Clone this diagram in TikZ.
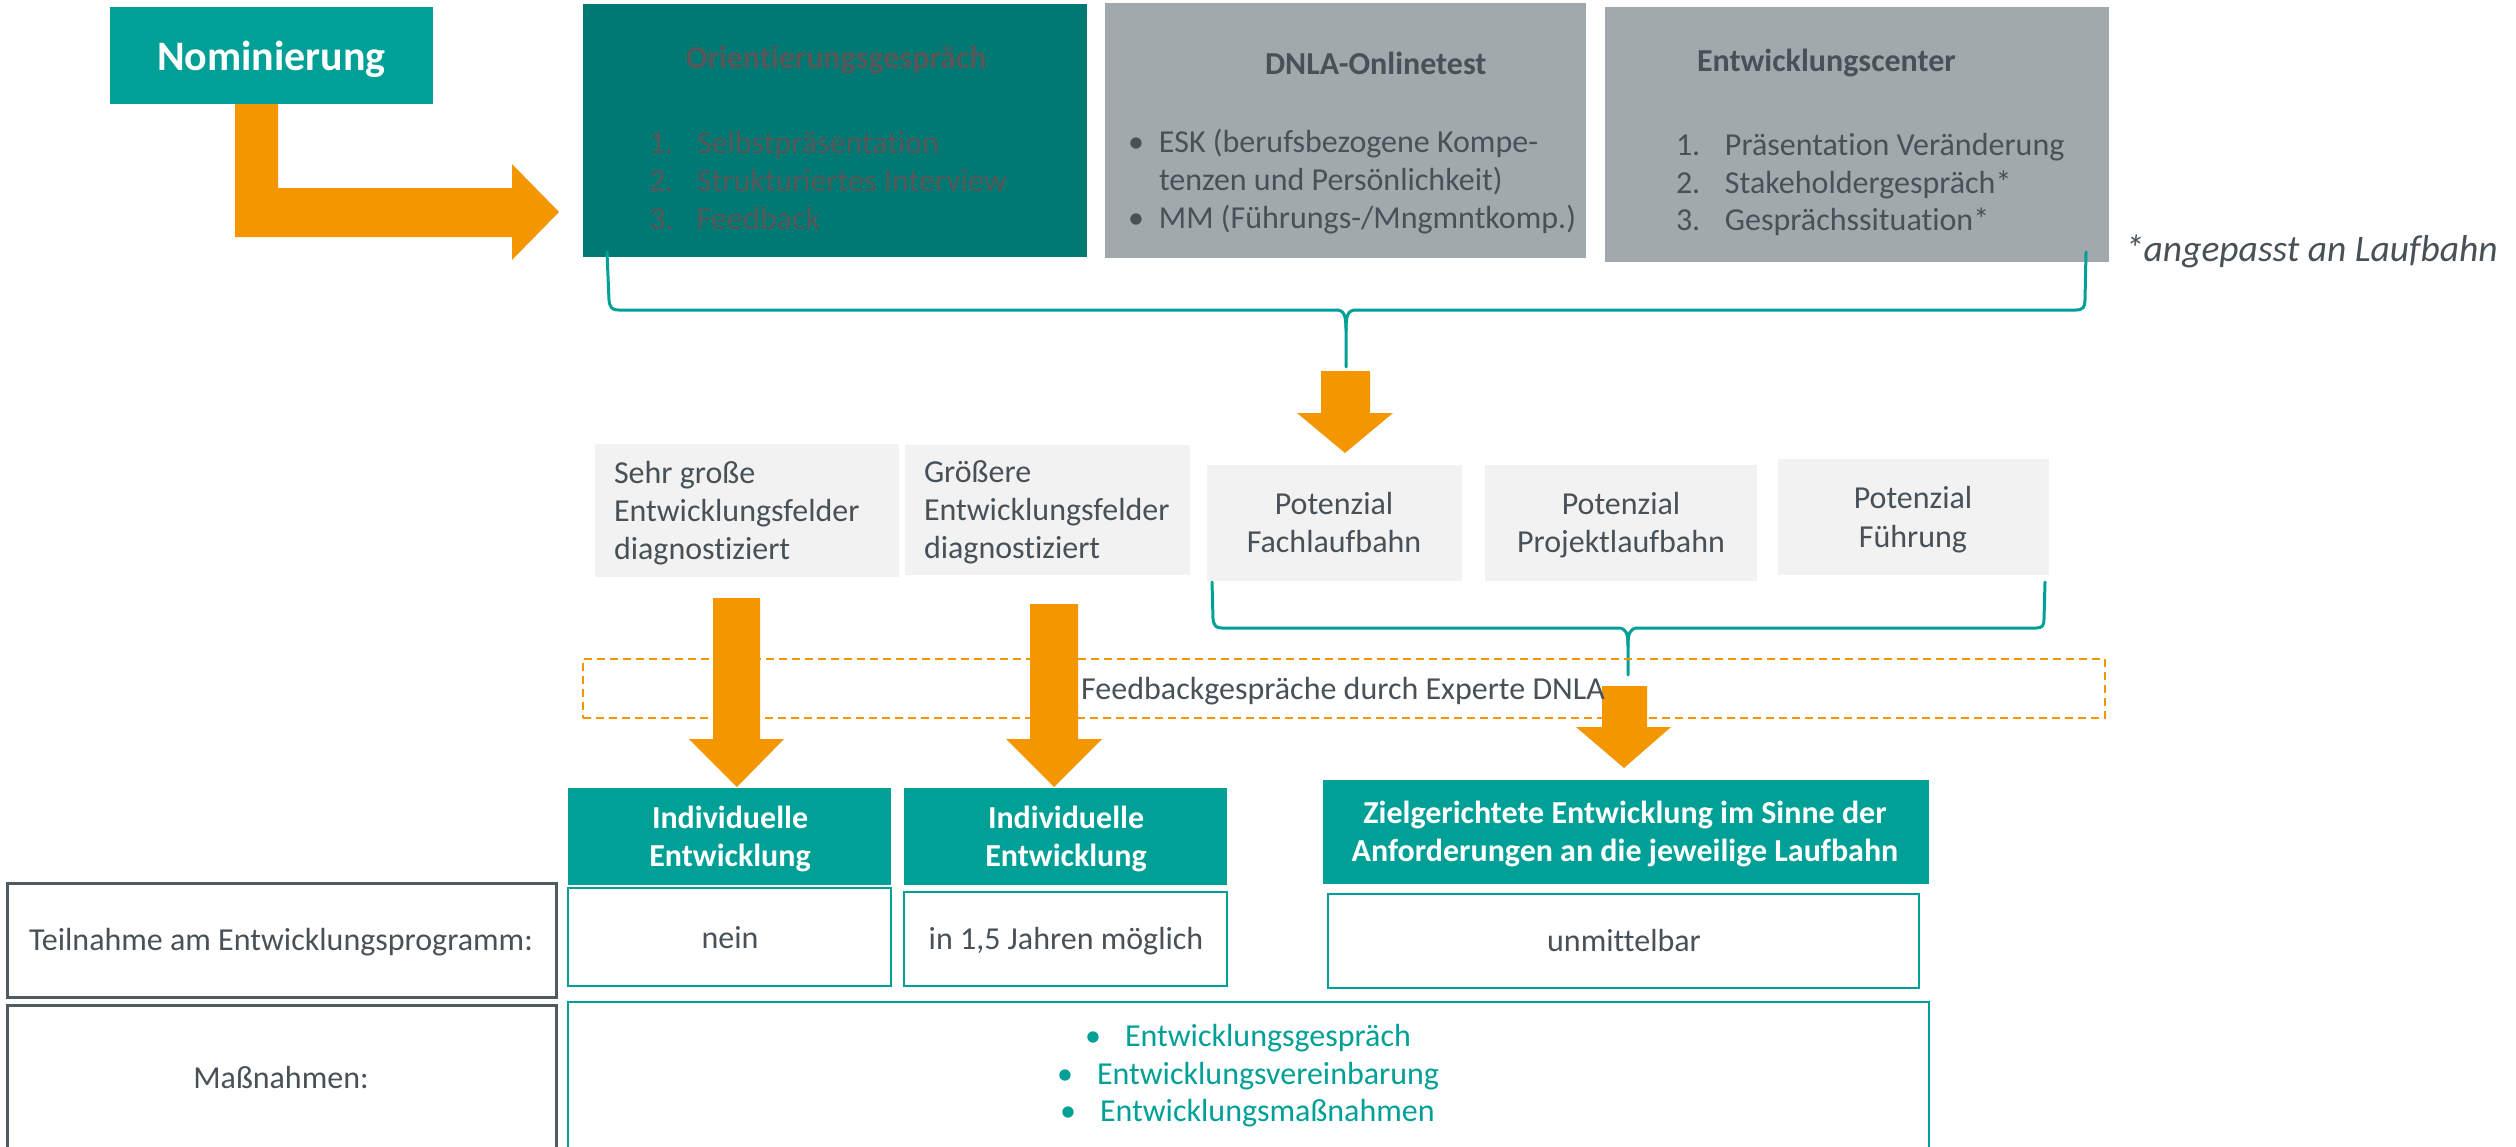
\documentclass[tikz,border=0pt]{standalone}
\usepackage{fontspec}
\setmainfont[Ligatures={NoCommon}]{Carlito}
\definecolor{tealA}{HTML}{00A096}
\definecolor{tealD}{HTML}{007873}
\definecolor{greyBox}{HTML}{A2A9AC}
\definecolor{lightBox}{HTML}{F2F2F2}
\definecolor{orangeA}{HTML}{F39600}
\definecolor{textDark}{HTML}{475157}
\definecolor{labelBorder}{HTML}{4F5A61}
\definecolor{orientTxt}{HTML}{575757}
\newcommand\bodyfs{\fontsize{32}{38}\selectfont}
\tikzset{
  rbox/.style={anchor=north west, inner sep=0pt, outer sep=0pt},
  txt/.style={inner sep=0pt, outer sep=0pt, text=textDark, font=\bodyfs},
  wtxt/.style={inner sep=0pt, outer sep=0pt, text=white, font=\bodyfs\bfseries},
  ttxt/.style={inner sep=0pt, outer sep=0pt, text=tealA, font=\bodyfs},
  brace/.style={draw=tealA, line width=3pt, line cap=round, line join=round},
  blk/.style={fill=orangeA},
  outlineT/.style={draw=tealA, line width=2.5pt},
  outlineG/.style={draw=labelBorder, line width=3pt},
}
\begin{document}
\begin{tikzpicture}[x=1pt,y=-1pt]
\useasboundingbox (0,0) rectangle (2516,1146);
\clip (0,0) rectangle (2516,1146);

% ---------- top row boxes
\node[rbox, fill=tealA, minimum width=323pt, minimum height=97pt] (nom) at (110,7) {};
\node[wtxt, font=\fontsize{42}{50}\selectfont\bfseries, anchor=base] (nomt) at (271.5,70) {Nominierung};

\node[rbox, fill=tealD, minimum width=504pt, minimum height=253pt] (orient) at (583,4) {};
\node[txt, text=orientTxt, font=\bodyfs\bfseries, anchor=base west] (orientt) at (686,68) {Orientierungsgespräch};
\node[txt, text=orientTxt, anchor=base west] (or1) at (649,153) {\makebox[48pt][l]{1.}Selbstpräsentation};
\node[txt, text=orientTxt, anchor=base west] (or2) at (649,191) {\makebox[48pt][l]{2.}Strukturiertes Interview};
\node[txt, text=orientTxt, anchor=base west] (or3) at (649,229) {\makebox[48pt][l]{3.}Feedback};

\node[rbox, fill=greyBox, minimum width=481pt, minimum height=255pt] (dnla) at (1105,3) {};
\node[txt, font=\bodyfs\bfseries, anchor=base west] (dnlat) at (1265,74) {DNLA-Onlinetest};
\node[txt, anchor=base west] (dn1) at (1128,152) {\makebox[31pt][l]{•}ESK (berufsbezogene Kompe-};
\node[txt, anchor=base west] (dn2) at (1159,190) {tenzen und Persönlichkeit)};
\node[txt, anchor=base west] (dn3) at (1128,228) {\makebox[31pt][l]{•}MM (Führungs-/Mngmntkomp.)};

\node[rbox, fill=greyBox, minimum width=504pt, minimum height=255pt] (ec) at (1605,7) {};
\node[txt, font=\bodyfs\bfseries, anchor=base west] (ect) at (1697,71) {Entwicklungscenter};
\node[txt, anchor=base west] (ec1) at (1676,155) {\makebox[49pt][l]{1.}Präsentation Veränderung};
\node[txt, anchor=base west] (ec2) at (1676,193) {\makebox[49pt][l]{2.}Stakeholdergespräch*};
\node[txt, anchor=base west] (ec3) at (1676,230) {\makebox[49pt][l]{3.}Gesprächssituation*};

\node[txt, font=\fontsize{37.5}{45}\selectfont\itshape, anchor=base west] (anm) at (2125,261) {*angepasst an Laufbahn};

% ---------- L-shaped block arrow
\fill[blk] (235,104) -- (278,104) -- (278,188) -- (512,188) -- (512,164) -- (559,212)
  -- (512,260) -- (512,237) -- (235,237) -- cycle;

% ---------- brace 1
\coordinate (b1l) at (607,252);
\coordinate (b1r) at (2086,252);
\coordinate (b1m) at (1346,367);
\draw[brace] (b1l) -- (609,300) .. controls (610,308) and (612,310) .. (619,310)
  -- (1336,310) .. controls (1344,310) and (1346,315) .. (1346,330) -- (b1m);
\draw[brace] (1346,330) .. controls (1346,315) and (1348,310) .. (1356,310)
  -- (2076,310) .. controls (2083,310) and (2085,307) .. (2085,300) -- (b1r);

% ---------- arrow 2
\fill[blk] (1321,371) -- (1370,371) -- (1370,413) -- (1393,413) -- (1345,453)
  -- (1297,413) -- (1321,413) -- cycle;

% ---------- middle row boxes
\node[rbox, fill=lightBox, minimum width=304pt, minimum height=133pt] (sehr) at (595,444) {};
\node[txt, anchor=base west] (se1) at (614,483) {Sehr große};
\node[txt, anchor=base west] (se2) at (614,521) {Entwicklungsfelder};
\node[txt, anchor=base west] (se3) at (614,559) {diagnostiziert};

\node[rbox, fill=lightBox, minimum width=285pt, minimum height=130pt] (gross) at (905,445) {};
\node[txt, anchor=base west] (gr1) at (924,482) {Größere};
\node[txt, anchor=base west] (gr2) at (924,520) {Entwicklungsfelder};
\node[txt, anchor=base west] (gr3) at (924,558) {diagnostiziert};

\node[rbox, fill=lightBox, minimum width=255pt, minimum height=116pt] (fach) at (1207,465) {};
\node[txt, anchor=base] (fa1) at (1334,514) {Potenzial};
\node[txt, anchor=base] (fa2) at (1334,552) {Fachlaufbahn};

\node[rbox, fill=lightBox, minimum width=272pt, minimum height=116pt] (proj) at (1485,465) {};
\node[txt, anchor=base] (pr1) at (1621,514) {Potenzial};
\node[txt, anchor=base] (pr2) at (1621,552) {Projektlaufbahn};

\node[rbox, fill=lightBox, minimum width=271pt, minimum height=116pt] (fueh) at (1778,459) {};
\node[txt, anchor=base] (fu1) at (1913,508) {Potenzial};
\node[txt, anchor=base] (fu2) at (1913,547) {Führung};

% ---------- brace 2
\coordinate (b2l) at (1212,582);
\coordinate (b2r) at (2045,582);
\coordinate (b2m) at (1628,675);
\draw[brace] (b2l) -- (1213,619) .. controls (1214,626) and (1216,628) .. (1222,628)
  -- (1618,628) .. controls (1626,628) and (1628,633) .. (1628,646) -- (b2m);
\draw[brace] (1628,646) .. controls (1628,633) and (1630,628) .. (1638,628)
  -- (2036,628) .. controls (2042,628) and (2044,626) .. (2044,619) -- (b2r);

% ---------- dashed feedback frame
\node[rbox, draw=orangeA, line width=2.5pt, dash pattern=on 8pt off 5pt,
  minimum width=1522pt, minimum height=59pt] (fb) at (583,659) {};

% ---------- down arrows
\fill[blk] (713,598) -- (760,598) -- (760,739) -- (784,739) -- (737,787)
  -- (689,739) -- (713,739) -- cycle;
\fill[blk] (1030,604) -- (1078,604) -- (1078,739) -- (1102,739) -- (1054,787)
  -- (1006,739) -- (1030,739) -- cycle;
\fill[blk] (1602,686) -- (1647,686) -- (1647,727) -- (1671,727) -- (1624,768)
  -- (1576,727) -- (1602,727) -- cycle;

\node[txt, anchor=base] (fbt) at (1343,699) {Feedbackgespräche durch Experte DNLA};

% ---------- result boxes
\node[rbox, fill=tealA, minimum width=323pt, minimum height=97pt] (indA) at (568,788) {};
\node[wtxt, anchor=base] (ia1) at (730,828) {Individuelle};
\node[wtxt, anchor=base] (ia2) at (730,866) {Entwicklung};

\node[rbox, fill=tealA, minimum width=323pt, minimum height=97pt] (indB) at (904,788) {};
\node[wtxt, anchor=base] (ib1) at (1066,828) {Individuelle};
\node[wtxt, anchor=base] (ib2) at (1066,866) {Entwicklung};

\node[rbox, fill=tealA, minimum width=606pt, minimum height=104pt] (ziel) at (1323,780) {};
\node[wtxt, anchor=base] (zi1) at (1625,823) {Zielgerichtete Entwicklung im Sinne der};
\node[wtxt, anchor=base] (zi2) at (1625,861) {Anforderungen an die jeweilige Laufbahn};

% ---------- table rows
\node[rbox, outlineG, minimum width=549pt, minimum height=114pt] (teil) at (7,883) {};
\node[txt, anchor=base] (teilt) at (281,950) {Teilnahme am Entwicklungsprogramm:};

\node[rbox, outlineT, minimum width=323pt, minimum height=98pt] (nein) at (568,888) {};
\node[txt, anchor=base] (neint) at (730,948) {nein};

\node[rbox, outlineT, minimum width=323pt, minimum height=94pt] (jahr) at (904,892) {};
\node[txt, anchor=base] (jahrt) at (1066,949) {in 1,5 Jahren möglich};

\node[rbox, outlineT, minimum width=591pt, minimum height=94pt] (unm) at (1328,894) {};
\node[txt, anchor=base] (unmt) at (1624,951) {unmittelbar};

\node[rbox, outlineG, minimum width=549pt, minimum height=220pt] (mass) at (7,1005) {};
\node[txt, anchor=base] (masst) at (281,1088) {Maßnahmen:};

\node[rbox, outlineT, minimum width=1361pt, minimum height=220pt] (massb) at (568,1002) {};
\node[ttxt, anchor=base] (mb1d) at (1093,1046) {•};
\node[ttxt, anchor=base west] (mb1) at (1125,1046) {Entwicklungsgespräch};
\node[ttxt, anchor=base] (mb2d) at (1065,1084) {•};
\node[ttxt, anchor=base west] (mb2) at (1097,1084) {Entwicklungsvereinbarung};
\node[ttxt, anchor=base] (mb3d) at (1068,1121) {•};
\node[ttxt, anchor=base west] (mb3) at (1100,1121) {Entwicklungsmaßnahmen};
\end{tikzpicture}
\end{document}
